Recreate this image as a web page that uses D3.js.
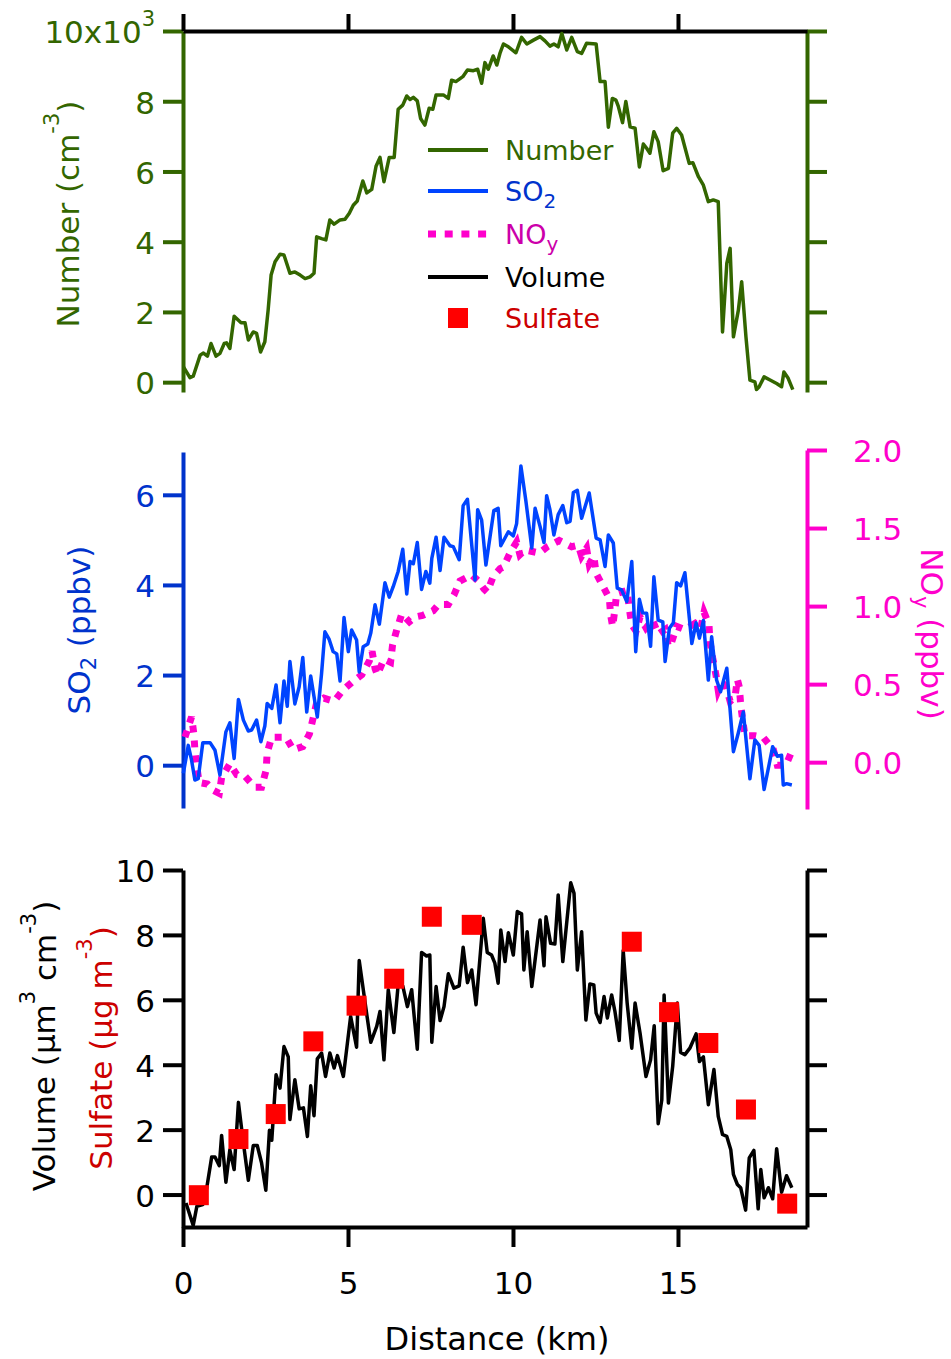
<!DOCTYPE html>
<html>
<head>
<meta charset="utf-8">
<script src="https://cdn.jsdelivr.net/npm/d3@7"></script>
<style>
  body { margin: 0; background: #fff; }
  svg { display: block; }
</style>
</head>
<body>
<div class="container"></div>
<script>
// ---- data (distance in km) ----
const numberKm = [0.01,0.21,0.31,0.52,0.62,0.74,0.85,1.00,1.12,1.25,1.32,1.42,1.55,1.76,1.88,1.98,2.13,2.23,2.35,2.48,2.58,2.67,2.79,2.94,3.06,3.24,3.39,3.55,3.70,3.85,3.97,4.05,4.20,4.33,4.45,4.58,4.76,4.91,5.04,5.16,5.28,5.45,5.57,5.72,5.85,5.97,6.09,6.25,6.40,6.52,6.66,6.78,6.88,6.98,7.10,7.20,7.33,7.46,7.57,7.67,7.89,8.04,8.14,8.27,8.48,8.62,8.80,8.93,9.05,9.15,9.25,9.40,9.51,9.61,9.71,9.86,10.09,10.26,10.42,10.62,10.82,10.97,11.12,11.24,11.37,11.48,11.63,11.78,11.95,12.08,12.23,12.52,12.64,12.79,12.89,13.01,13.12,13.19,13.32,13.42,13.55,13.70,13.83,13.95,14.05,14.15,14.27,14.40,14.55,14.71,14.84,14.96,15.11,15.34,15.45,15.62,15.77,15.92,16.07,16.22,16.35,16.48,16.58,16.68,16.83,16.93,17.06,17.18,17.33,17.38,17.46,17.61,17.79,17.99,18.14,18.21,18.34,18.48];
// particle number, thousands per cm3
const numberK = [0.44,0.13,0.17,0.77,0.83,0.74,1.10,0.74,0.82,1.10,1.12,0.96,1.88,1.69,1.69,1.20,1.43,1.39,0.86,1.15,2.05,3.05,3.43,3.64,3.62,3.10,3.14,3.05,2.95,3.00,3.10,4.14,4.09,4.05,4.62,4.50,4.62,4.64,4.81,5.04,5.16,5.73,5.39,5.49,6.15,6.40,5.71,6.40,6.40,7.77,7.89,8.15,8.05,8.11,8.01,7.51,7.32,7.80,7.77,8.18,8.18,8.08,8.60,8.56,8.70,8.89,8.87,8.91,8.51,9.10,8.91,9.29,9.03,9.38,9.63,9.55,9.38,9.82,9.63,9.74,9.84,9.72,9.57,9.63,9.55,9.93,9.46,9.82,9.41,9.36,9.65,9.63,8.56,8.56,7.26,8.08,8.03,7.86,7.39,7.99,7.27,7.23,6.13,6.78,6.66,6.52,7.13,6.85,6.02,6.09,7.09,7.23,7.04,6.23,6.25,5.85,5.61,5.14,5.19,5.14,1.43,3.38,3.81,1.29,2.05,2.86,1.29,0.06,0.01,-0.21,-0.13,0.15,0.06,-0.04,-0.13,0.29,0.11,-0.21];

const so2Km = [0.01,0.16,0.26,0.36,0.46,0.60,0.82,0.97,1.12,1.30,1.42,1.55,1.68,1.83,1.98,2.08,2.23,2.36,2.48,2.55,2.69,2.82,2.94,3.06,3.16,3.24,3.39,3.52,3.63,3.75,3.87,4.07,4.20,4.30,4.43,4.55,4.66,4.76,4.88,5.01,5.11,5.26,5.34,5.46,5.60,5.69,5.82,5.95,6.12,6.25,6.37,6.52,6.66,6.78,6.88,6.98,7.10,7.23,7.36,7.48,7.54,7.67,7.79,7.91,8.09,8.19,8.37,8.49,8.62,8.85,8.93,9.05,9.18,9.42,9.55,9.63,9.86,10.01,10.11,10.24,10.39,10.57,10.67,10.82,10.94,11.02,11.12,11.24,11.37,11.51,11.63,11.73,11.83,11.95,12.08,12.31,12.52,12.64,12.79,12.89,13.04,13.16,13.29,13.45,13.60,13.72,13.83,13.93,14.05,14.17,14.27,14.40,14.54,14.61,14.74,14.86,14.96,15.08,15.21,15.42,15.55,15.65,15.77,15.92,16.02,16.17,16.29,16.48,16.68,16.83,16.98,17.18,17.33,17.46,17.61,17.87,18.01,18.14,18.19,18.29,18.45];
// SO2, ppbv
const so2 = [-0.18,0.44,0.11,-0.33,-0.30,0.50,0.50,0.33,-0.22,0.74,0.94,0.15,1.46,1.00,0.76,0.78,1.00,0.52,0.87,1.37,1.26,1.78,0.94,1.87,1.31,2.30,1.36,1.74,2.39,1.18,1.98,1.07,2.04,2.96,2.79,2.52,2.47,1.87,3.28,2.52,3.00,2.78,2.07,2.63,2.69,2.93,3.56,3.13,4.05,3.73,3.96,4.30,4.79,3.80,4.52,4.47,4.94,3.90,4.30,4.04,4.59,5.06,4.32,5.06,4.87,4.85,4.56,5.76,5.90,4.11,5.67,5.44,4.44,5.65,5.70,4.87,5.18,5.09,5.36,6.64,5.87,4.82,5.70,5.30,4.94,5.98,5.67,5.11,5.56,5.76,5.38,5.41,6.05,6.10,5.48,6.04,5.04,5.00,4.41,5.11,4.93,3.93,3.89,3.63,4.52,2.52,3.68,3.38,3.37,2.64,4.18,3.22,3.18,2.30,3.04,3.16,4.05,3.98,4.27,2.70,3.16,2.82,3.21,1.89,2.85,1.89,1.63,2.15,0.30,0.72,1.18,-0.30,0.56,0.44,-0.54,0.41,0.20,0.22,-0.44,-0.41,-0.44];

const noyKm = [0.06,0.26,0.33,0.36,0.42,0.49,0.74,0.92,1.10,1.17,1.42,1.63,1.88,2.18,2.38,2.52,2.55,2.69,3.12,3.34,3.63,3.83,3.93,4.05,4.27,4.58,4.84,5.11,5.42,5.65,5.73,5.82,5.89,6.09,6.29,6.35,6.48,6.63,6.86,7.03,7.26,7.58,7.74,8.04,8.21,8.39,8.75,8.95,9.12,9.22,9.40,9.61,9.71,9.91,10.11,10.21,10.36,10.80,11.04,11.40,11.78,11.98,12.08,12.23,12.31,12.45,12.52,12.72,12.92,12.96,13.02,13.09,13.14,13.46,13.52,13.60,13.73,13.85,14.03,14.23,14.40,14.61,14.71,14.81,14.96,15.21,15.52,15.69,15.79,15.94,15.97,16.05,16.15,16.22,16.32,16.45,16.58,16.73,16.80,16.86,16.90,16.96,17.03,17.33,17.58,17.89,18.01,18.27,18.45];
// NOy, ppbv
const noy = [0.16,0.29,0.18,0.08,-0.03,-0.13,-0.14,-0.18,-0.20,-0.10,-0.01,-0.08,-0.09,-0.16,-0.16,-0.05,0.06,0.16,0.16,0.08,0.10,0.18,0.27,0.38,0.41,0.39,0.46,0.51,0.56,0.65,0.71,0.60,0.56,0.66,0.64,0.75,0.85,0.95,0.90,0.93,0.94,0.97,1.01,1.01,1.07,1.16,1.20,1.16,1.11,1.09,1.19,1.24,1.25,1.34,1.41,1.33,1.36,1.34,1.38,1.42,1.38,1.39,1.32,1.37,1.27,1.32,1.21,1.13,1.05,0.94,0.87,0.98,1.08,1.10,0.99,0.88,0.84,0.93,0.86,0.91,0.82,0.85,0.74,0.77,0.87,0.85,0.89,0.86,0.96,0.88,0.77,0.67,0.56,0.46,0.51,0.49,0.39,0.42,0.53,0.48,0.37,0.27,0.17,0.17,0.16,0.08,-0.02,-0.02,0.07];

const volumeKm = [0.09,0.31,0.42,0.60,0.72,0.87,0.97,1.10,1.17,1.30,1.42,1.55,1.68,1.81,1.98,2.13,2.25,2.38,2.51,2.62,2.69,2.82,2.94,3.06,3.19,3.24,3.39,3.52,3.65,3.77,3.87,3.97,4.07,4.20,4.32,4.45,4.58,4.68,4.86,5.08,5.26,5.34,5.52,5.69,5.87,5.97,6.09,6.22,6.39,6.52,6.66,6.80,6.93,7.10,7.23,7.38,7.48,7.54,7.67,7.79,7.91,8.04,8.21,8.37,8.49,8.62,8.75,8.88,9.10,9.22,9.35,9.45,9.55,9.63,9.76,9.86,10.01,10.13,10.26,10.33,10.43,10.57,10.82,10.94,11.00,11.14,11.27,11.37,11.51,11.75,11.85,11.95,12.08,12.21,12.33,12.45,12.52,12.64,12.76,12.86,12.99,13.09,13.22,13.34,13.46,13.60,13.70,13.85,14.03,14.17,14.28,14.40,14.51,14.58,14.71,14.84,14.98,15.08,15.21,15.36,15.55,15.65,15.77,15.92,16.09,16.22,16.35,16.48,16.60,16.68,16.80,16.90,17.05,17.16,17.30,17.43,17.51,17.61,17.74,17.87,17.99,18.14,18.29,18.45];
// aerosol volume, um3 cm-3
const volume = [-0.26,-0.95,-0.36,-0.31,0.21,1.16,1.16,0.89,1.82,0.38,1.38,0.77,2.84,1.74,0.44,1.51,1.51,0.98,0.13,1.98,1.67,3.69,3.28,4.56,4.24,2.31,3.54,2.64,2.67,1.79,3.35,2.43,4.18,4.36,3.64,4.36,3.90,4.28,3.64,5.49,4.54,7.21,5.90,4.69,5.18,5.64,4.15,6.31,4.99,6.46,6.43,5.79,6.31,4.48,7.46,7.35,7.38,4.69,6.41,5.36,5.79,6.80,6.36,6.43,7.62,6.53,6.92,5.85,8.51,7.46,7.38,7.13,6.51,8.15,7.18,8.07,7.38,8.72,8.65,6.92,8.10,6.41,8.46,7.05,8.56,7.74,7.72,9.23,7.18,9.61,9.28,6.92,8.10,5.38,6.49,6.46,5.59,5.30,6.10,5.44,6.15,5.64,4.75,7.52,5.90,4.51,5.90,4.98,3.64,4.15,5.20,2.18,2.92,6.15,2.82,3.95,5.90,4.38,4.31,4.51,4.95,4.10,4.24,2.77,3.85,2.41,1.85,1.79,1.38,0.62,0.31,0.21,-0.48,1.13,1.36,-0.44,0.77,-0.10,0.21,-0.13,1.41,0.07,0.58,0.21];

const sulfateKm = [0.48,1.68,2.81,3.95,5.26,6.40,7.54,8.75,13.60,14.73,15.92,17.06,18.31];
// sulfate, ug m-3
const sulfate = [-0.02,1.71,2.48,4.72,5.82,6.65,8.56,8.31,7.79,5.62,4.67,2.62,-0.28];

const xTicks = [0, 5, 10, 15];
const numberTicks = [0, 2, 4, 6, 8, 10];
const so2Ticks = [0, 2, 4, 6];
const noyTicks = [0, 0.5, 1.0, 1.5, 2.0];
const volumeTicks = [0, 2, 4, 6, 8, 10];

const legendItems = [
  {name: 'Number', sub: null, kind: 'line'},
  {name: 'SO', sub: '2', kind: 'line'},
  {name: 'NO', sub: 'y', kind: 'dot'},
  {name: 'Volume', sub: null, kind: 'line'},
  {name: 'Sulfate', sub: null, kind: 'square'}
];

// ---- colours ----
const green = '#336600';
const blueLine = '#0044ff';
const blueAxis = '#0033cc';
const pink = '#ff00cc';
const pinkText = '#cc00aa';
const red = '#ff0000';
const redText = '#cc0000';
const FONT = 'DejaVu Sans, Verdana, sans-serif';
const TICK_FONT = 31;

const svg = d3.select('.container')
  .append('svg')
  .attr('width', 951)
  .attr('height', 1359);

// shared distance scale
const x = d3.scaleLinear().domain([0, 18.91]).range([183, 807]);

// panel scales
const yNum = d3.scaleLinear().domain([-0.28, 10]).range([392, 31]);
const ySo2 = d3.scaleLinear().domain([-0.95, 6.95]).range([808, 452]);
const yNoy = d3.scaleLinear().domain([-0.3, 2.0]).range([809, 450]);
const yVol = d3.scaleLinear().domain([-1, 10]).range([1227, 870]);

// style an axis group: thick lines, big labels
function styleAxis(g, color) {
  g.attr('font-family', FONT).attr('font-size', TICK_FONT);
  g.select('.domain').attr('stroke', color).attr('stroke-width', 4);
  g.selectAll('.tick line').attr('stroke', color).attr('stroke-width', 4);
  g.selectAll('.tick text').attr('fill', color);
  return g;
}

// ---- top panel: particle number ----
svg.append('g')
  .attr('transform', 'translate(183,0)')
  .call(d3.axisLeft(yNum).tickValues(numberTicks).tickSize(20).tickPadding(8).tickSizeOuter(0)
    .tickFormat(d => d))
  .call(g => styleAxis(g, green))
  .call(g => g.selectAll('.tick text').attr('dy', '0.38em'))
  .call(g => {
    const t = g.selectAll('.tick text').filter(d => d === 10);
    t.text('10x10');
    t.append('tspan').attr('font-size', 21).attr('dy', '-0.8em').text('3');
  });

svg.append('g')
  .attr('transform', 'translate(807,0)')
  .call(d3.axisRight(yNum).tickValues(numberTicks).tickSize(20).tickFormat('').tickSizeOuter(0))
  .call(g => styleAxis(g, green));

svg.append('g')
  .attr('transform', 'translate(0,31)')
  .call(d3.axisTop(x).tickValues(xTicks).tickSize(17).tickFormat('').tickSizeOuter(0))
  .call(g => styleAxis(g, '#000'));

const numLine = d3.line().x((d, i) => x(numberKm[i])).y(d => yNum(d));
svg.append('path')
  .datum(numberK)
  .attr('d', numLine)
  .attr('fill', 'none')
  .attr('stroke', green)
  .attr('stroke-width', 3.5)
  .attr('stroke-linejoin', 'round');

// legend
const legend = svg.append('g').attr('font-family', FONT).attr('font-size', 27);
const legendColors = [green, blueLine, pink, '#000', red];
const legendText = [green, blueAxis, pinkText, '#000', redText];
const legendY = [150, 191, 234, 277, 318];
legendItems.forEach(function(item, i) {
  const y = legendY[i];
  if (item.kind === 'square') {
    legend.append('rect')
      .attr('x', 448).attr('y', y - 10).attr('width', 20).attr('height', 20)
      .attr('fill', legendColors[i]);
  } else {
    legend.append('line')
      .attr('x1', 428).attr('x2', 488).attr('y1', y).attr('y2', y)
      .attr('stroke', legendColors[i])
      .attr('stroke-width', item.kind === 'dot' ? 7 : 4)
      .attr('stroke-dasharray', item.kind === 'dot' ? '8,8.7' : null);
  }
  const t = legend.append('text')
    .attr('x', 505).attr('y', y + 10)
    .attr('fill', legendText[i])
    .text(item.name);
  if (item.sub) {
    t.append('tspan').attr('font-size', 20).attr('dy', '0.35em').text(item.sub);
  }
});

// y label, top panel
svg.append('text')
  .attr('transform', 'translate(79,214) rotate(-90)')
  .attr('text-anchor', 'middle')
  .attr('font-family', FONT).attr('font-size', 31)
  .attr('fill', green)
  .call(t => {
    t.append('tspan').text('Number (cm');
    t.append('tspan').attr('font-size', 21).attr('dy', '-0.95em').text('-3');
    t.append('tspan').attr('dy', '0.66em').text(')');
  });

// ---- middle panel: SO2 and NOy ----
svg.append('g')
  .attr('transform', 'translate(183,0)')
  .call(d3.axisLeft(ySo2).tickValues(so2Ticks).tickSize(20).tickPadding(8).tickSizeOuter(0))
  .call(g => styleAxis(g, blueAxis))
  .call(g => g.selectAll('.tick text').attr('dy', '0.38em'));

svg.append('g')
  .attr('transform', 'translate(807,0)')
  .call(d3.axisRight(yNoy).tickValues(noyTicks).tickSize(20).tickPadding(26).tickSizeOuter(0)
    .tickFormat(d3.format('.1f')))
  .call(g => styleAxis(g, pink))
  .call(g => g.selectAll('.tick text').attr('dy', '0.38em'));

svg.append('path')
  .datum(noy)
  .attr('d', d3.line().x((d, i) => x(noyKm[i])).y(d => yNoy(d)))
  .attr('fill', 'none')
  .attr('stroke', pink)
  .attr('stroke-width', 7)
  .attr('stroke-dasharray', '7,8');

svg.append('path')
  .datum(so2)
  .attr('d', d3.line().x((d, i) => x(so2Km[i])).y(d => ySo2(d)))
  .attr('fill', 'none')
  .attr('stroke', blueLine)
  .attr('stroke-width', 3.5)
  .attr('stroke-linejoin', 'round');

svg.append('text')
  .attr('transform', 'translate(90,630) rotate(-90)')
  .attr('text-anchor', 'middle')
  .attr('font-family', FONT).attr('font-size', 31)
  .attr('fill', blueAxis)
  .call(t => {
    t.append('tspan').text('SO');
    t.append('tspan').attr('font-size', 21).attr('dy', '0.3em').text('2');
    t.append('tspan').attr('dy', '-0.2em').text(' (ppbv)');
  });

svg.append('text')
  .attr('transform', 'translate(921,634) rotate(90)')
  .attr('text-anchor', 'middle')
  .attr('font-family', FONT).attr('font-size', 31)
  .attr('fill', pink)
  .call(t => {
    t.append('tspan').text('NO');
    t.append('tspan').attr('font-size', 21).attr('dy', '0.35em').text('y');
    t.append('tspan').attr('dy', '-0.25em').text(' (ppbv)');
  });

// ---- bottom panel: volume and sulfate ----
svg.append('g')
  .attr('transform', 'translate(183,0)')
  .call(d3.axisLeft(yVol).tickValues(volumeTicks).tickSize(20).tickPadding(8).tickSizeOuter(0))
  .call(g => styleAxis(g, '#000'))
  .call(g => g.selectAll('.tick text').attr('dy', '0.38em'));

svg.append('g')
  .attr('transform', 'translate(807,0)')
  .call(d3.axisRight(yVol).tickValues(volumeTicks).tickSize(20).tickFormat('').tickSizeOuter(0))
  .call(g => styleAxis(g, '#000'));

svg.append('g')
  .attr('transform', 'translate(0,1227)')
  .call(d3.axisBottom(x).tickValues(xTicks).tickSize(20).tickPadding(25).tickSizeOuter(0))
  .call(g => styleAxis(g, '#000'));

svg.append('path')
  .datum(volume)
  .attr('d', d3.line().x((d, i) => x(volumeKm[i])).y(d => yVol(d)))
  .attr('fill', 'none')
  .attr('stroke', '#000')
  .attr('stroke-width', 3.5)
  .attr('stroke-linejoin', 'round');

svg.append('g')
  .selectAll('rect')
  .data(sulfate)
  .join('rect')
  .attr('x', (d, i) => x(sulfateKm[i]) - 10)
  .attr('y', d => yVol(d) - 10)
  .attr('width', 20)
  .attr('height', 20)
  .attr('fill', red);

svg.append('text')
  .attr('transform', 'translate(55,1046) rotate(-90)')
  .attr('text-anchor', 'middle')
  .attr('font-family', FONT).attr('font-size', 31)
  .attr('fill', '#000')
  .call(t => {
    t.append('tspan').text('Volume (\u03bcm');
    t.append('tspan').attr('font-size', 21).attr('dy', '-0.95em').text('3');
    t.append('tspan').attr('dy', '0.66em').text(' cm');
    t.append('tspan').attr('font-size', 21).attr('dy', '-0.95em').text('-3');
    t.append('tspan').attr('dy', '0.66em').text(')');
  });

svg.append('text')
  .attr('transform', 'translate(112,1048) rotate(-90)')
  .attr('text-anchor', 'middle')
  .attr('font-family', FONT).attr('font-size', 31)
  .attr('fill', redText)
  .call(t => {
    t.append('tspan').text('Sulfate (\u03bcg m');
    t.append('tspan').attr('font-size', 21).attr('dy', '-0.95em').text('-3');
    t.append('tspan').attr('dy', '0.66em').text(')');
  });

svg.append('text')
  .attr('x', 497).attr('y', 1350)
  .attr('text-anchor', 'middle')
  .attr('font-family', FONT).attr('font-size', 32)
  .text('Distance (km)');
</script>
</body>
</html>
